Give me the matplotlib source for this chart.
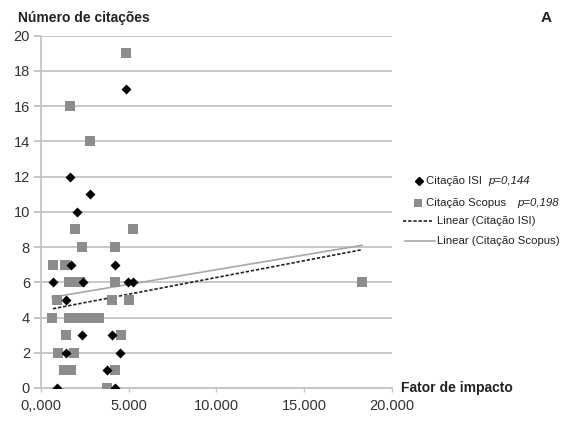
import matplotlib
matplotlib.use("Agg")
import matplotlib.pyplot as plt
from matplotlib.lines import Line2D

plt.rcParams["font.family"] = ["Liberation Sans"]

# Citação ISI (fator de impacto, número de citações)
isi_x = [4850, 1650, 2790, 2070, 1710, 4220, 680, 2380, 4960, 5240,
         1420, 2340, 4050, 1420, 4500, 3760, 910, 4220]
isi_y = [17, 12, 11, 10, 7, 7, 6, 6, 6, 6,
         5, 3, 3, 2, 2, 1, 0, 0]

# Citação Scopus
scopus_x = [4850, 1650, 2790, 1940, 5240, 2340, 4220, 680, 1370,
            1600, 1900, 2200, 4220, 18300, 910, 4050, 5020,
            630, 1600, 2000, 2350, 2900, 3300, 1420, 4560,
            970, 1880, 1330, 1730, 4220, 3760]
scopus_y = [19, 16, 14, 9, 9, 8, 8, 7, 7,
            6, 6, 6, 6, 6, 5, 5, 5,
            4, 4, 4, 4, 4, 4, 3, 3,
            2, 2, 1, 1, 1, 0]

# Linhas de tendência (valor no início e no fim)
trend_isi_x = [680, 18300]
trend_isi_y = [4.5, 7.85]
trend_scopus_x = [630, 18300]
trend_scopus_y = [5.15, 8.1]

x_ticks = [0, 5000, 10000, 15000, 20000]
x_tick_labels = ["0,.000", "5.000", "10.000", "15.000", "20.000"]
y_ticks = list(range(0, 21, 2))

grid_color = "#c4c4c4"
square_color = "#8c8c8c"
dash_style = (0, (2.0, 1.1))

W, H = 567, 425

fig = plt.figure(figsize=(5.67, 4.25), dpi=100)
ax = fig.add_axes([0.0723, 0.0871, 0.6188, 0.829])

ax.plot(trend_isi_x, trend_isi_y, color="#222222", lw=1.2, ls=dash_style, zorder=2)
ax.plot(trend_scopus_x, trend_scopus_y, color="#a8a8a8", lw=1.2, zorder=2)
ax.scatter(scopus_x, scopus_y, marker="s", s=58, color=square_color, zorder=3, linewidths=0)
ax.scatter(isi_x, isi_y, marker="D", s=26, color="black", zorder=4, linewidths=0)

ax.set_xlim(0, 20000)
ax.set_ylim(0, 20)
ax.set_xticks(x_ticks)
ax.set_xticklabels(x_tick_labels)
ax.set_yticks(y_ticks)
ax.grid(axis="y", color=grid_color, lw=1.3)
ax.set_axisbelow(True)
ax.tick_params(axis="y", length=5, color=grid_color, width=1.3, labelsize=10.5, pad=3)
ax.tick_params(axis="x", length=3, color=grid_color, width=1, labelsize=10.5, pad=5, direction="out")
for lbl in ax.get_xticklabels() + ax.get_yticklabels():
    lbl.set_color("#333333")
for side in ["top", "right"]:
    ax.spines[side].set_visible(False)
for side in ["left", "bottom"]:
    ax.spines[side].set_color(grid_color)
    ax.spines[side].set_linewidth(1.3)

fig.text(18 / W, 1 - 18 / H, "Número de citações", fontsize=10, fontweight="bold", va="center",
         color="#222222")
fig.text(401 / W, 1 - 388 / H, "Fator de impacto", fontsize=10, fontweight="bold", va="center",
         color="#222222")
fig.text(541 / W, 1 - 18 / H, "A", fontsize=11, fontweight="bold", va="center", color="#222222")


# Legenda desenhada à mão para acompanhar o recuo de cada entrada
def fx(px):
    return px / W


def fy(py):
    return 1 - py / H


leg_font = 8.2
fig.add_artist(Line2D([fx(419)], [fy(181.5)], marker="D", color="black", ls="none",
                      markersize=4.2, transform=fig.transFigure))
fig.text(fx(426), fy(181.5), "Citação ISI", fontsize=leg_font, va="center", color="#222222")
fig.text(fx(488), fy(181.5), "p=0,144", fontsize=leg_font, va="center", style="italic",
         color="#222222")

fig.add_artist(Line2D([fx(417.5)], [fy(202.5)], marker="s", color=square_color, ls="none",
                      markersize=5.5, markeredgewidth=0, transform=fig.transFigure))
fig.text(fx(426), fy(202.5), "Citação Scopus", fontsize=leg_font, va="center", color="#222222")
fig.text(fx(517), fy(202.5), "p=0,198", fontsize=leg_font, va="center", style="italic",
         color="#222222")

fig.add_artist(Line2D([fx(403), fx(432)], [fy(221.5), fy(221.5)], color="#222222", lw=1.2,
                      ls=dash_style, transform=fig.transFigure))
fig.text(fx(437), fy(221.5), "Linear (Citação ISI)", fontsize=leg_font, va="center",
         color="#222222")

fig.add_artist(Line2D([fx(405), fx(435)], [fy(241), fy(241)], color="#a8a8a8", lw=1.2,
                      transform=fig.transFigure))
fig.text(fx(437), fy(241), "Linear (Citação Scopus)", fontsize=leg_font, va="center",
         color="#222222")

fig.savefig("out.png", dpi=100)
